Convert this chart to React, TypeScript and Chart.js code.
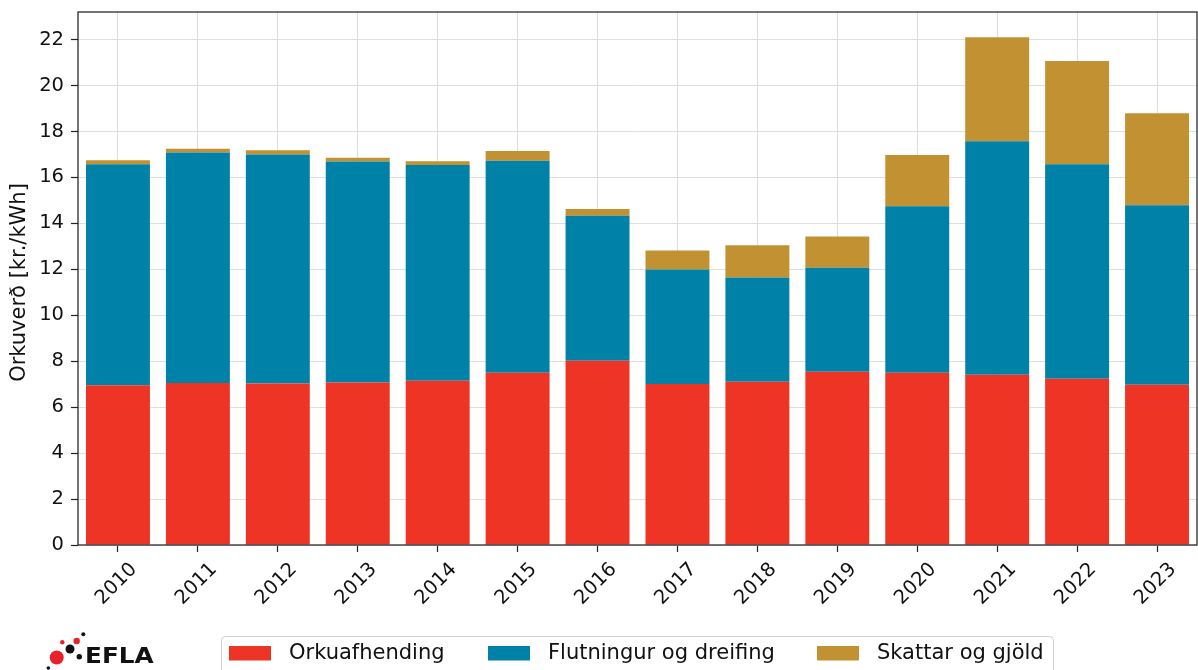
import React, { useEffect, useRef } from 'react';
import { Chart, registerables } from 'chart.js';

Chart.register(...registerables);

const years = ['2010', '2011', '2012', '2013', '2014', '2015', '2016', '2017', '2018', '2019', '2020', '2021', '2022', '2023'];
const orkuafhending = [6.95, 7.05, 7.03, 7.07, 7.15, 7.5, 8.02, 7.01, 7.11, 7.54, 7.5, 7.41, 7.24, 6.98];
const flutningur = [9.62, 10.03, 9.97, 9.62, 9.39, 9.22, 6.31, 4.98, 4.53, 4.53, 7.25, 10.16, 9.33, 7.81];
const skattar = [0.18, 0.17, 0.18, 0.17, 0.16, 0.43, 0.3, 0.83, 1.41, 1.36, 2.23, 4.53, 4.5, 4.0];
const yTicks = [0, 2, 4, 6, 8, 10, 12, 14, 16, 18, 20, 22];
const seriesNames = ['Orkuafhending', 'Flutningur og dreifing', 'Skattar og gjöld'];
const seriesColors = ['#EE3424', '#0082A8', '#C29232'];
const yTitle = 'Orkuverð [kr./kWh]';
const logoText = 'EFLA';

const FONT = '"DejaVu Sans", sans-serif';
const TEXT = '#111111';

const decorPlugin = {
  id: 'decor',
  afterDatasetsDraw(chart: any) {
    const { ctx, chartArea: a } = chart;
    ctx.save();
    ctx.strokeStyle = '#222222';
    ctx.lineWidth = 1.25;
    ctx.strokeRect(a.left, a.top, a.right - a.left, a.bottom - a.top);
    ctx.fillStyle = TEXT;
    ctx.font = `19.5px ${FONT}`;
    ctx.textAlign = 'center';
    ctx.textBaseline = 'middle';
    const xs = chart.scales.x;
    years.forEach((y, i) => {
      const px = xs.getPixelForValue(i);
      ctx.save();
      ctx.translate(px - 1.5, a.bottom + 39);
      ctx.rotate(-Math.PI / 4);
      ctx.fillText(y, 0, 0);
      ctx.restore();
    });
    ctx.save();
    ctx.font = `21px ${FONT}`;
    ctx.translate(20, (a.top + a.bottom) / 2 + 4);
    ctx.rotate(-Math.PI / 2);
    ctx.fillText(yTitle, 0, 0);
    ctx.restore();
    ctx.restore();
  },
  afterDraw(chart: any) {
    const { ctx } = chart;
    ctx.save();
    const bx = 221.5, by = 636.5, bw = 832, bh = 50;
    ctx.fillStyle = '#ffffff';
    ctx.strokeStyle = '#d0d0d0';
    ctx.lineWidth = 1;
    ctx.beginPath();
    ctx.roundRect(bx, by, bw, bh, 4);
    ctx.fill();
    ctx.stroke();
    const patchX = [229, 488, 817];
    ctx.font = `21px ${FONT}`;
    ctx.textAlign = 'left';
    ctx.textBaseline = 'middle';
    seriesNames.forEach((n, i) => {
      ctx.fillStyle = seriesColors[i];
      ctx.fillRect(patchX[i], 646, 42, 14.5);
      ctx.fillStyle = TEXT;
      ctx.fillText(n, patchX[i] + 60, 654);
    });
    const dot = (x: number, y: number, r: number, c: string) => {
      ctx.fillStyle = c;
      ctx.beginPath();
      ctx.arc(x, y, r, 0, Math.PI * 2);
      ctx.fill();
    };
    dot(56.7, 657.5, 7, '#E8202A');
    dot(70, 649, 4.5, '#111111');
    dot(76.7, 641, 3.2, '#E8202A');
    dot(62.3, 642.3, 2.2, '#E8202A');
    dot(83.3, 634.3, 2, '#111111');
    dot(79.3, 656.7, 2.7, '#111111');
    dot(48.3, 668, 1.8, '#111111');
    ctx.save();
    ctx.fillStyle = '#111111';
    ctx.font = `bold 21.5px ${FONT}`;
    ctx.textAlign = 'left';
    ctx.textBaseline = 'alphabetic';
    ctx.translate(85, 662.5);
    ctx.scale(1.15, 1);
    ctx.fillText(logoText, 0, 0);
    ctx.restore();
    ctx.restore();
  },
};

export default function App() {
  const ref = useRef<HTMLCanvasElement | null>(null);
  useEffect(() => {
    if (!ref.current) return;
    const chart = new Chart(ref.current, {
      type: 'bar',
      data: {
        labels: years,
        datasets: [
          { label: seriesNames[0], data: orkuafhending, backgroundColor: seriesColors[0], borderWidth: 0 },
          { label: seriesNames[1], data: flutningur, backgroundColor: seriesColors[1], borderWidth: 0 },
          { label: seriesNames[2], data: skattar, backgroundColor: seriesColors[2], borderWidth: 0 },
        ],
      },
      options: {
        responsive: false,
        animation: false,
        datasets: { bar: { categoryPercentage: 0.8, barPercentage: 1.0 } },
        layout: { padding: { left: 0, top: 12, right: 1, bottom: 0 } },
        plugins: { legend: { display: false }, tooltip: { enabled: false } },
        scales: {
          x: {
            stacked: true,
            offset: true,
            grid: { offset: false, color: '#dedede', lineWidth: 1, drawTicks: true, tickLength: 7, tickColor: '#222222', tickWidth: 1.2 },
            border: { display: false },
            ticks: { display: false },
            afterFit: (s: any) => { s.height = 125; s.paddingLeft = 0; s.paddingRight = 0; },
          },
          y: {
            stacked: true,
            min: 0,
            max: 23.2,
            afterBuildTicks: (s: any) => { s.ticks = yTicks.map((v) => ({ value: v })); },
            ticks: { font: { family: FONT, size: 19.5 }, color: TEXT, padding: 7 },
            grid: { color: '#dedede', lineWidth: 1, drawTicks: true, tickLength: 7, tickColor: '#222222', tickWidth: 1.2 },
            border: { display: false },
            afterFit: (s: any) => { s.width = 78; s.paddingTop = 0; s.paddingBottom = 0; },
          },
        },
      },
      plugins: [decorPlugin],
    });
    return () => chart.destroy();
  }, []);
  return (
    <div style={{ position: 'fixed', left: 0, top: 0, width: 1198, height: 670, background: '#fff' }}>
      <canvas ref={ref} width={1198} height={670} style={{ display: 'block' }} />
    </div>
  );
}
